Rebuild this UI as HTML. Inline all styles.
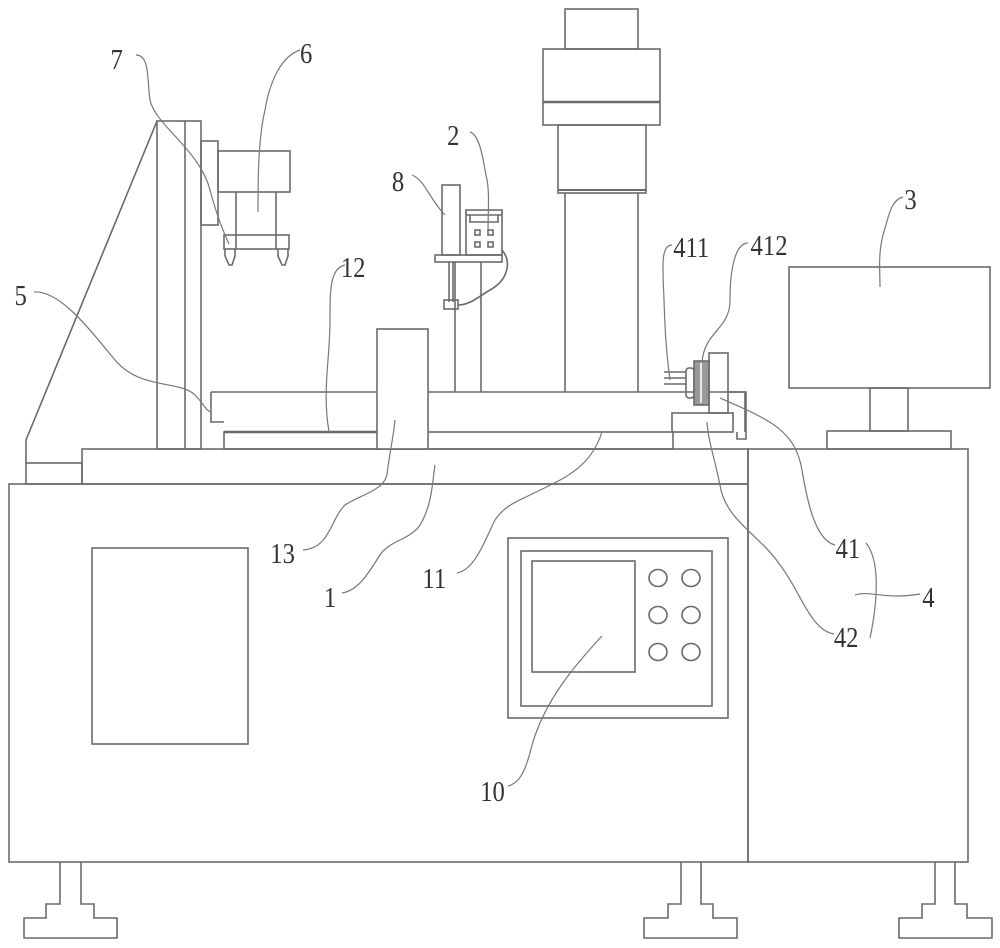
<!DOCTYPE html>
<html><head><meta charset="utf-8"><style>
html,body{margin:0;padding:0;background:#fff}
svg{display:block}
text{font-family:"Liberation Serif",serif;font-size:29px;fill:#333}
</style></head><body>
<svg width="1000" height="948" viewBox="0 0 1000 948" xmlns="http://www.w3.org/2000/svg">
<g fill="none" stroke="#6a6a6a" stroke-width="1.6">
<rect x="9" y="484" width="739" height="378"/>
<rect x="748" y="449" width="220" height="413"/>
<rect x="82" y="449" width="666" height="35"/>
<rect x="26" y="463" width="56" height="21"/>
<rect x="92" y="548" width="156" height="196"/>
<rect x="508" y="538" width="220" height="180"/>
<rect x="521" y="551" width="191" height="155"/>
<rect x="532" y="561" width="103" height="111"/>
<ellipse cx="658" cy="578" rx="9" ry="8.5"/><ellipse cx="691" cy="578" rx="9" ry="8.5"/>
<ellipse cx="658" cy="615" rx="9" ry="8.5"/><ellipse cx="691" cy="615" rx="9" ry="8.5"/>
<ellipse cx="658" cy="652" rx="9" ry="8.5"/><ellipse cx="691" cy="652" rx="9" ry="8.5"/>
<path d="M60 862V904H46V918H24V938H117V918H94V904H81V862"/>
<path d="M681 862V904H668V918H644V938H737V918H713V904H701V862"/>
<path d="M935 862V904H922V918H899V938H992V918H967V904H955V862"/>
<rect x="157" y="121" width="44" height="328"/>
<line x1="185" y1="121" x2="185" y2="449"/>
<path d="M157 121L26 440V463"/>
<rect x="201" y="141" width="17" height="84"/>
<rect x="218" y="151" width="72" height="41"/>
<line x1="236" y1="192" x2="236" y2="249"/><line x1="276" y1="192" x2="276" y2="249"/>
<rect x="224" y="235" width="65" height="14"/>
<path d="M225 249V256L229 265H232L235 256V249"/>
<path d="M278 249V256L282 265H285L288 256V249"/>
<path d="M211 392H745V432"/>
<path d="M211 392V422H224"/>
<rect x="224" y="432" width="449" height="17"/>
<line x1="224" y1="432" x2="377" y2="432" stroke-width="2.5"/>
<rect x="377" y="329" width="51" height="120" fill="#fff"/>
<rect x="565" y="9" width="73" height="40"/>
<rect x="543" y="49" width="117" height="76"/>
<line x1="543" y1="102" x2="660" y2="102" stroke-width="2.5"/>
<rect x="558" y="125" width="88" height="68"/>
<line x1="558" y1="190" x2="646" y2="190" stroke-width="2"/>
<line x1="565" y1="193" x2="565" y2="392"/><line x1="638" y1="193" x2="638" y2="392"/>
<line x1="455" y1="262" x2="455" y2="392"/><line x1="481" y1="262" x2="481" y2="392"/>
<rect x="442" y="185" width="18" height="70"/>
<rect x="435" y="255" width="67" height="7"/>
<rect x="466" y="210" width="36" height="45"/>
<path d="M466 215H502M470 215V222H498V215"/>
<rect x="475" y="230" width="5" height="5"/><rect x="488" y="230" width="5" height="5"/>
<rect x="475" y="242" width="5" height="5"/><rect x="488" y="242" width="5" height="5"/>
<line x1="449" y1="262" x2="449" y2="302"/><line x1="453" y1="262" x2="453" y2="302"/>
<rect x="444" y="300" width="14" height="9"/>
<path d="M502 250C512 262 508 280 490 290C478 297 470 305 458 305"/>
<path d="M664 372H686M664 378H686M664 384H686"/>
<rect x="686" y="368" width="8" height="30" rx="3"/>
<rect x="694" y="361" width="15" height="44" fill="#999"/>
<line x1="701" y1="363" x2="701" y2="403" stroke="#fff"/>
<rect x="709" y="353" width="19" height="60"/>
<path d="M728 392H746V439H737V432"/>
<rect x="672" y="413" width="61" height="19"/>
<rect x="789" y="267" width="201" height="121"/>
<rect x="870" y="388" width="38" height="43"/>
<rect x="827" y="431" width="124" height="18"/>
</g>
<g fill="none" stroke="#777" stroke-width="1.2">
<path d="M136 55C150 55 147 80 150 100C155 125 200 150 210 190C218 220 225 235 229 244"/>
<path d="M300 50C282 56 270 80 265 110C258 140 258 180 258 212"/>
<path d="M470 132C480 135 483 160 486 175C490 190 488 210 488 232"/>
<path d="M412 175C425 180 430 200 445 215"/>
<path d="M345 265C330 268 330 290 330 320C330 360 322 390 329 432"/>
<path d="M34 292C60 290 90 330 115 360C140 390 180 380 195 395C205 405 205 410 211 412"/>
<path d="M903 197C890 200 888 220 883 235C878 255 880 270 880 287"/>
<path d="M672 245C660 245 663 270 664 300C665 330 666 350 670 380"/>
<path d="M748 243C735 243 730 270 730 300C730 330 705 330 702 362"/>
<path d="M303 550C330 548 330 520 345 505C360 495 385 490 387 474C390 450 393 440 395 420"/>
<path d="M342 593C360 590 370 570 380 555C390 540 410 540 420 525C432 505 432 485 435 465"/>
<path d="M457 573C475 570 485 540 495 520C505 505 520 500 530 495C560 480 590 470 602 432"/>
<path d="M835 545C815 540 807 500 802 470C795 430 770 420 720 398"/>
<path d="M834 634C810 630 800 590 780 565C760 535 725 520 720 485C715 460 708 440 707 422"/>
<path d="M866 543C880 560 878 600 870 638"/>
<path d="M855 595C870 590 885 600 920 594"/>
<path d="M508 786C520 783 526 770 532 745C545 700 575 665 602 636"/>
</g>
<g transform="scale(0.85,1)">
<text x="130" y="69">7</text>
<text x="353" y="63">6</text>
<text x="526" y="145">2</text>
<text x="461" y="191">8</text>
<text x="401" y="277">12</text>
<text x="17" y="305">5</text>
<text x="1064" y="209">3</text>
<text x="792" y="257">411</text>
<text x="883" y="255">412</text>
<text x="318" y="563">13</text>
<text x="381" y="607">1</text>
<text x="497" y="588">11</text>
<text x="983" y="558">41</text>
<text x="1085" y="607">4</text>
<text x="981" y="647">42</text>
<text x="565" y="801">10</text>
</g>
</svg>
</body></html>
